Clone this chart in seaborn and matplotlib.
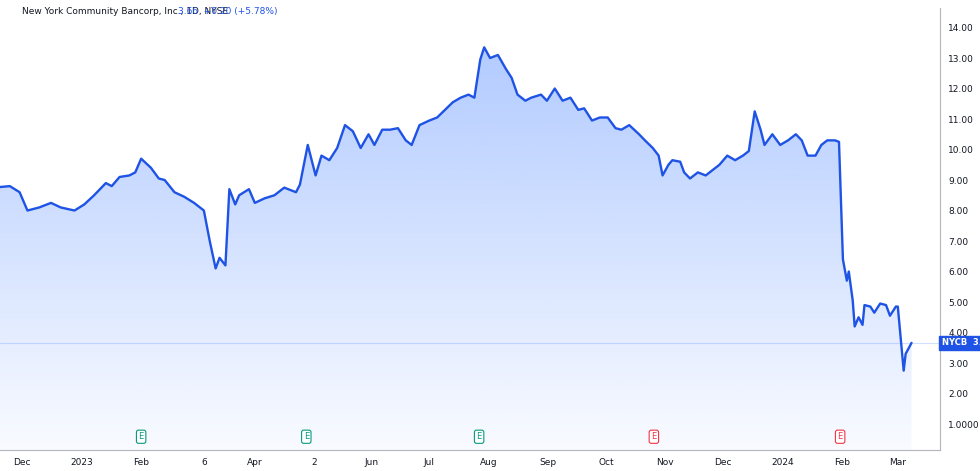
import numpy as np
import pandas as pd
import matplotlib
matplotlib.use("Agg")
import matplotlib.pyplot as plt
import matplotlib.dates as mdates
import matplotlib.transforms as mtrans
import seaborn as sns

sns.set_style("white")
plt.rcParams['font.family'] = ['DejaVu Sans']

# approx day offsets from 2022-11-19 (chart units, scaled below) and closing prices
day_offsets = [0, 5, 10, 14, 20, 26, 31, 38, 43, 48, 54, 57, 61, 66, 69, 72, 77, 81, 84, 89,
               94, 99, 104, 107, 110, 112, 115, 117, 120, 122, 127, 130, 135, 140, 145, 151,
               153, 157, 161, 164, 168, 172, 176, 180, 184, 188, 191, 195, 199, 203, 207, 210,
               214, 219, 223, 227, 231, 235, 239, 242, 245, 247, 250, 254, 258, 261, 264, 268,
               271, 276, 279, 283, 287, 291, 295, 298, 302, 306, 310, 314, 317, 321, 326, 329,
               333, 336, 338, 341, 343, 347, 349, 352, 356, 360, 363, 367, 371, 375, 379, 382,
               385, 388, 390, 394, 398, 402, 406, 409, 412, 416, 419, 422, 426, 428, 430, 432,
               433, 435, 436, 438, 440, 441, 444, 446, 449, 452, 454, 457, 458, 461, 462, 465]
prices = [8.77, 8.80, 8.60, 8.00, 8.10, 8.25, 8.10, 8.00, 8.20, 8.50, 8.90, 8.80, 9.10, 9.15,
          9.25, 9.70, 9.40, 9.05, 9.00, 8.60, 8.45, 8.25, 8.00, 7.00, 6.10, 6.45, 6.20, 8.70,
          8.20, 8.50, 8.70, 8.25, 8.40, 8.50, 8.75, 8.60, 8.85, 10.15, 9.15, 9.80, 9.65, 10.05,
          10.80, 10.60, 10.05, 10.50, 10.15, 10.65, 10.65, 10.70, 10.30, 10.15, 10.80, 10.95,
          11.05, 11.30, 11.55, 11.70, 11.80, 11.70, 12.95, 13.35, 13.00, 13.10, 12.65, 12.35,
          11.80, 11.60, 11.70, 11.80, 11.60, 12.00, 11.60, 11.70, 11.30, 11.35, 10.95, 11.05,
          11.05, 10.70, 10.65, 10.80, 10.50, 10.30, 10.05, 9.80, 9.15, 9.50, 9.65, 9.60, 9.25,
          9.05, 9.25, 9.15, 9.30, 9.50, 9.80, 9.65, 9.80, 9.95, 11.25, 10.65, 10.15, 10.50,
          10.15, 10.30, 10.50, 10.30, 9.80, 9.80, 10.15, 10.30, 10.30, 10.25, 6.40, 5.70, 6.00,
          5.05, 4.20, 4.50, 4.25, 4.90, 4.85, 4.65, 4.95, 4.90, 4.55, 4.85, 4.85, 2.75, 3.30, 3.66]
last_price = 3.66
y_ticks = [2, 3, 4, 5, 6, 7, 8, 9, 10, 11, 12, 13, 14]
x_tick_dates = ["2022-12-01", "2023-01-01", "2023-02-01", "2023-03-06", "2023-04-01", "2023-05-02",
                "2023-06-01", "2023-07-01", "2023-08-01", "2023-09-01", "2023-10-01", "2023-11-01",
                "2023-12-01", "2024-01-01", "2024-02-01", "2024-03-01"]
x_tick_labels = ["Dec", "2023", "Feb", "6", "Apr", "2", "Jun", "Jul", "Aug", "Sep", "Oct", "Nov",
                 "Dec", "2024", "Feb", "Mar"]
earnings_dates = ["2023-02-01", "2023-04-28", "2023-07-27", "2023-10-26", "2024-01-31"]
earnings_beat = [True, True, True, False, False]

start = pd.Timestamp("2022-11-19 12:00")
dates = start + pd.to_timedelta(np.array(day_offsets) * 1.0208, unit="D")
df = pd.DataFrame({"date": dates, "price": prices})

blue = "#1E53E5"
fig = plt.figure(figsize=(9.8, 4.71), dpi=100)
ax = fig.add_axes([0, 21 / 471, 940 / 980, 442 / 471])
ymin, ymax = 0.148, 14.64
xnum = mdates.date2num(df["date"])
xmin, xmax = xnum[0], mdates.date2num(pd.Timestamp("2024-03-23"))

# gradient fill under line
grad = np.linspace(0.36, 0.03, 256).reshape(-1, 1)
cimg = np.zeros((256, 1, 4))
cimg[..., 0] = 41 / 255
cimg[..., 1] = 110 / 255
cimg[..., 2] = 1.0
cimg[..., 3] = grad
top = max(prices)
im = ax.imshow(cimg, aspect="auto", extent=[xnum[0], xnum[-1], ymin, top], origin="upper", zorder=1)
clip = plt.Polygon(np.column_stack([np.r_[xnum, xnum[-1], xnum[0]],
                                    np.r_[prices, ymin, ymin]]), transform=ax.transData)
im.set_clip_path(clip)

sns.lineplot(data=df, x="date", y="price", ax=ax, color=blue, linewidth=1.7, zorder=3)
ax.axhline(last_price, color="#2962FF", alpha=0.2, linewidth=0.8, zorder=2)

ax.set_xlim(xmin, xmax)
ax.set_ylim(ymin, ymax)
ax.set_xlabel("")
ax.set_ylabel("")
ax.yaxis.tick_right()
ax.set_yticks(y_ticks + [1])
ax.set_yticklabels([f"{v:.2f}" for v in y_ticks] + ["1.0000"], fontsize=6.5, color="#131722")
ax.set_xticks(mdates.date2num(pd.to_datetime(x_tick_dates)))
ax.set_xticklabels(x_tick_labels, fontsize=6.5, color="#131722")
ax.tick_params(length=0, pad=6)
ax.tick_params(axis="y", pad=6)
for s in ["top", "left"]:
    ax.spines[s].set_visible(False)
ax.spines["right"].set_color("#b2b5be")
ax.spines["bottom"].set_color("#b2b5be")

# earnings markers
trans = mtrans.blended_transform_factory(ax.transData, ax.transAxes)
for d, beat in zip(earnings_dates, earnings_beat):
    c = "#089981" if beat else "#F23645"
    ax.text(mdates.date2num(pd.Timestamp(d)), 0.03, "E", transform=trans, ha="center", va="center",
            fontsize=6, color=c, bbox=dict(boxstyle="round,pad=0.25", fc="white", ec=c, lw=0.8))

# last price label
ax.text(1.002, (last_price - ymin) / (ymax - ymin), f"NYCB  {last_price:.2f}", transform=ax.transAxes,
        ha="left", va="center", fontsize=6, color="white", fontweight="bold",
        bbox=dict(boxstyle="square,pad=0.3", fc=blue, ec=blue), clip_on=False)

fig.text(0.022, 0.975, "New York Community Bancorp, Inc., 1D, NYSE", fontsize=6.5, color="#131722", va="center")
fig.text(0.182, 0.975, f"{last_price:.2f}  +0.20 (+5.78%)", fontsize=6.5, color=blue, va="center")

fig.savefig("out.png", dpi=100)
